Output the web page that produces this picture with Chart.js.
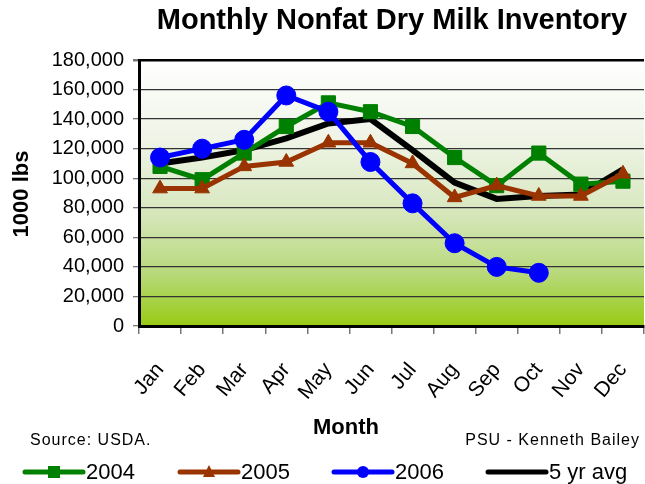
<!DOCTYPE html>
<html>
<head>
<meta charset="utf-8">
<script src="https://cdn.jsdelivr.net/npm/chart.js@4"></script>
<style>
  html, body { margin: 0; padding: 0; background: #fff; overflow: hidden; }
  #wrap { width: 655px; height: 484px; }
</style>
</head>
<body>
<div id="wrap"><canvas id="chart" width="655" height="484"></canvas></div>
<script>
// data, in 1000 lbs
const months = ['Jan', 'Feb', 'Mar', 'Apr', 'May', 'Jun', 'Jul', 'Aug', 'Sep', 'Oct', 'Nov', 'Dec'];
const y2004 = [108000, 99000, 117000, 135000, 151000, 145000, 135000, 114000, 95000, 117000, 96000, 98000];
const y2005 = [93000, 93000, 108000, 111000, 124000, 124000, 110000, 87000, 95000, 88000, 88000, 103000];
const y2006 = [114000, 120000, 126000, 156000, 145000, 111000, 83000, 56000, 40000, 36000, null, null];
const avg5 = [110000, 114000, 119000, 127000, 137000, 140000, 119000, 97000, 86000, 88000, 89000, 106000];
const yTicks = [0, 20000, 40000, 60000, 80000, 100000, 120000, 140000, 160000, 180000];

const FONT = '"Liberation Sans", Arial, sans-serif';

// gradient behind the plot area
const plotBackground = {
    id: 'plotBackground',
    beforeDraw(chart) {
        const { ctx, chartArea: a } = chart;
        const g = ctx.createLinearGradient(0, a.top, 0, a.bottom);
        g.addColorStop(0, '#ffffff');
        g.addColorStop(0.3, '#eff4e6');
        g.addColorStop(0.55, '#d9e8c2');
        g.addColorStop(0.8, '#b8d97c');
        g.addColorStop(1, '#98cb14');
        ctx.save();
        ctx.fillStyle = g;
        ctx.fillRect(a.left, a.top, a.right - a.left, a.bottom - a.top);
        ctx.restore();
    }
};

// title, axis titles, notes and the legend row
const texts = {
    id: 'texts',
    afterDraw(chart) {
        const ctx = chart.ctx;
        ctx.save();
        ctx.fillStyle = '#000';
        ctx.textBaseline = 'middle';

        ctx.font = 'bold 29px ' + FONT;
        ctx.textAlign = 'center';
        ctx.fillText('Monthly Nonfat Dry Milk Inventory', 392, 21);

        ctx.font = 'bold 22px ' + FONT;
        ctx.fillText('Month', 346, 428);

        ctx.save();
        ctx.translate(22, 194);
        ctx.rotate(-Math.PI / 2);
        ctx.fillText('1000 lbs', 0, 0);
        ctx.restore();

        ctx.font = '16px ' + FONT;
        ctx.letterSpacing = '1px';
        ctx.textAlign = 'left';
        ctx.fillText('Source: USDA.', 30, 441);
        ctx.textAlign = 'right';
        ctx.fillText('PSU - Kenneth Bailey', 640, 441);
        ctx.letterSpacing = '0px';

        // legend
        const items = [
            { i: 0, x: 25 },
            { i: 1, x: 180 },
            { i: 2, x: 334 },
            { i: 3, x: 488 }
        ];
        const ly = 472;
        items.forEach(it => {
            const ds = chart.data.datasets[it.i];
            const cx = it.x + 29;
            ctx.strokeStyle = ds.borderColor;
            ctx.lineWidth = 5;
            ctx.lineCap = 'round';
            ctx.beginPath();
            ctx.moveTo(it.x, ly);
            ctx.lineTo(it.x + 58, ly);
            ctx.stroke();
            if (ds.pointRadius > 0) {
                ctx.fillStyle = ds.pointBackgroundColor;
                ctx.beginPath();
                const r = 6;
                if (ds.pointStyle === 'rect') {
                    ctx.rect(cx - r, ly - r, 2 * r, 2 * r);
                } else if (ds.pointStyle === 'triangle') {
                    ctx.moveTo(cx, ly - r - 1);
                    ctx.lineTo(cx + r, ly + r - 1);
                    ctx.lineTo(cx - r, ly + r - 1);
                    ctx.closePath();
                } else {
                    ctx.arc(cx, ly, r, 0, Math.PI * 2);
                }
                ctx.fill();
            }
            ctx.fillStyle = '#000';
            ctx.font = '22px ' + FONT;
            ctx.textAlign = 'left';
            ctx.fillText(ds.label, it.x + 61, ly + 1);
        });
        ctx.restore();
    }
};

function series(label, data, color, style, radius, width, order) {
    return {
        label: label,
        data: data,
        borderColor: color,
        backgroundColor: color,
        pointBackgroundColor: color,
        pointBorderColor: color,
        pointStyle: style,
        pointRadius: radius,
        pointBorderWidth: 1,
        borderWidth: width,
        tension: 0,
        spanGaps: false,
        order: order
    };
}

new Chart(document.getElementById('chart').getContext('2d'), {
    type: 'line',
    data: {
        labels: months,
        datasets: [
            series('2004', y2004, '#008000', 'rect', 10, 5, 2),
            series('2005', y2005, '#993300', 'triangle', 8.5, 5, 1),
            series('2006', y2006, '#0000ff', 'circle', 9.5, 5, 0),
            series('5 yr avg', avg5, '#000000', 'circle', 0, 6, 3)
        ]
    },
    options: {
        responsive: false,
        animation: false,
        layout: { padding: { top: 60, right: 7, left: 0, bottom: 0 } },
        plugins: {
            legend: { display: false },
            title: { display: false },
            tooltip: { enabled: false }
        },
        scales: {
            x: {
                offset: true,
                afterFit: s => {
                    s.height = 158;
                    s.paddingLeft = 0;
                    s.paddingRight = 0;
                },
                grid: {
                    offset: true,
                    drawOnChartArea: false,
                    tickLength: 8,
                    tickColor: '#777',
                    lineWidth: 1.5
                },
                border: { color: '#000', width: 3 },
                ticks: {
                    color: '#000',
                    font: { family: FONT, size: 21 },
                    maxRotation: 50,
                    minRotation: 50,
                    padding: 24,
                    autoSkip: false
                }
            },
            y: {
                min: 0,
                max: 180000,
                afterFit: s => {
                    s.width = 139;
                    s.paddingTop = 0;
                    s.paddingBottom = 0;
                },
                afterBuildTicks: s => { s.ticks = yTicks.map(v => ({ value: v })); },
                grid: {
                    color: c => c.tick && c.tick.value === 180000 ? '#000' : '#333',
                    lineWidth: c => c.tick && c.tick.value === 180000 ? 2.5 : 1.3,
                    tickLength: 6,
                    tickColor: '#777'
                },
                border: { color: '#000', width: 3 },
                ticks: {
                    color: '#000',
                    font: { family: FONT, size: 20 },
                    padding: 9,
                    callback: v => v.toLocaleString('en-US')
                }
            }
        }
    },
    plugins: [plotBackground, texts]
});
</script>
</body>
</html>
